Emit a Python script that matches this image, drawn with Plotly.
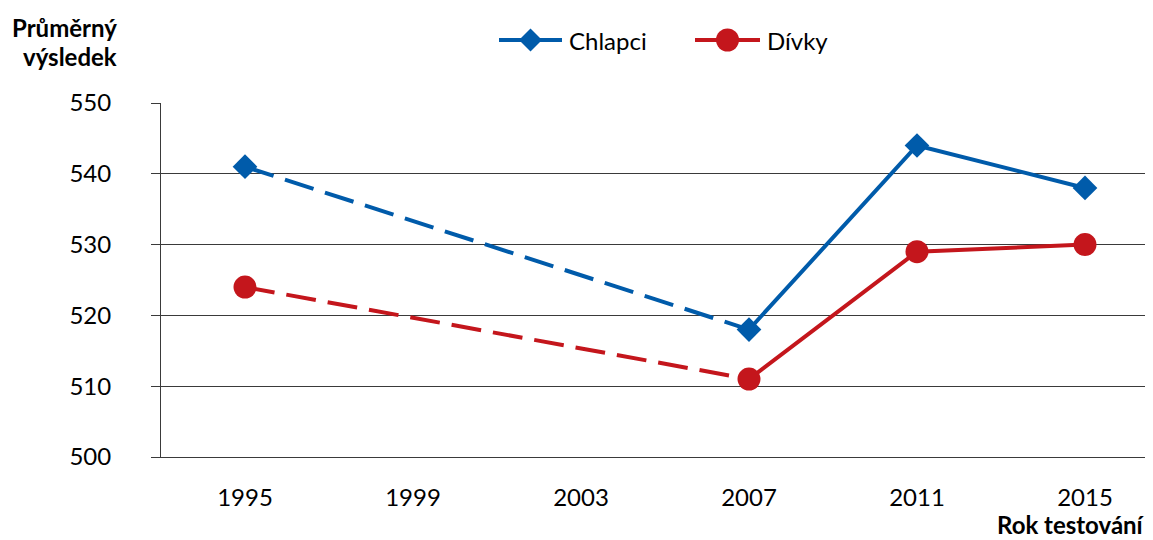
import plotly.graph_objects as go

years = ["1995", "1999", "2003", "2007", "2011", "2015"]
chlapci = [541, None, None, 518, 544, 538]
divky = [524, None, None, 511, 529, 530]
y_ticks = [500, 510, 520, 530, 540, 550]

BLUE = "#005BAA"
RED = "#C4161C"
FONT = "Lato"
GRID = "#3a3a3a"

xi = list(range(len(years)))

fig = go.Figure()

def add_series(vals, name, color, symbol, msize):
    known = [i for i, v in enumerate(vals) if v is not None]
    gap_end = next(i for i in known if i > 0 and vals[i - 1] is None)
    fig.add_trace(go.Scatter(
        x=xi[:gap_end + 1], y=vals[:gap_end + 1], mode="lines", connectgaps=True,
        line=dict(color=color, width=4, dash="30px,12px"), showlegend=False, hoverinfo="skip"))
    fig.add_trace(go.Scatter(
        x=xi, y=vals, mode="lines+markers", connectgaps=False, name=name, showlegend=False,
        line=dict(color=color, width=4),
        marker=dict(symbol=symbol, size=msize, color=color, line=dict(width=0))))

add_series(chlapci, "Chlapci", BLUE, "diamond", 19)
add_series(divky, "Dívky", RED, "circle", 23)

# screen-pixel -> paper helpers (plot area: x 161..1153, y 103..457 on screen)
PL, PT, PW, PH = 161, 103, 992, 354
def px(sx):
    return (sx - PL) / PW
def py(sy):
    return 1 + (PT - sy) / PH

# custom legend (long line segments with centred marker, like the reference)
shapes = []
annotations = []
LY = 40
legend_items = [("Chlapci", BLUE, "diamond", 499, 562), ("Dívky", RED, "circle", 695, 760)]
for name, color, sym, x0, x1 in legend_items:
    shapes.append(dict(type="line", xref="paper", yref="paper", x0=px(x0), x1=px(x1),
                       y0=py(LY), y1=py(LY), line=dict(color=color, width=4)))
    cx = (x0 + x1) / 2
    r = 11.5
    if sym == "diamond":
        path = (f"M {px(cx - r)} {py(LY)} L {px(cx)} {py(LY - r)} L {px(cx + r)} {py(LY)} "
                f"L {px(cx)} {py(LY + r)} Z")
        shapes.append(dict(type="path", xref="paper", yref="paper", path=path,
                           fillcolor=color, line=dict(width=0)))
    else:
        shapes.append(dict(type="circle", xref="paper", yref="paper", x0=px(cx - r), x1=px(cx + r),
                           y0=py(LY + r), y1=py(LY - r), fillcolor=color, line=dict(width=0)))
    annotations.append(dict(text=name, xref="paper", yref="paper", x=px(x1 + 5), y=py(LY),
                            xanchor="left", yanchor="middle", showarrow=False, font=dict(size=24)))

annotations += [
    dict(text="<b>Průměrný</b>", xref="paper", yref="paper", x=px(119), y=py(27),
         xanchor="right", yanchor="middle", showarrow=False, font=dict(size=24)),
    dict(text="<b>výsledek</b>", xref="paper", yref="paper", x=px(119), y=py(57),
         xanchor="right", yanchor="middle", showarrow=False, font=dict(size=24)),
    dict(text="<b>Rok testování</b>", xref="paper", yref="paper", x=px(1147), y=py(524),
         xanchor="right", yanchor="middle", showarrow=False, font=dict(size=24)),
]

# page body has an 8px margin; compensate so the plot lands where the reference has it
fig.update_layout(
    width=1145, height=532,
    margin=dict(l=PL - 8, r=0, t=PT - 8, b=83),
    paper_bgcolor="white", plot_bgcolor="white",
    font=dict(family=FONT, size=24, color="black"),
    showlegend=False,
    xaxis=dict(range=[-0.5, -0.5 + PW / 168], tickvals=xi, ticktext=years,
               showgrid=False, zeroline=False, showline=True, linecolor=GRID, linewidth=1,
               ticks="", ticklabelstandoff=19, tickfont=dict(size=24)),
    yaxis=dict(range=[500, 550], tickvals=y_ticks, showgrid=True, gridcolor=GRID, gridwidth=1,
               zeroline=False, showline=True, linecolor=GRID, linewidth=1,
               ticks="outside", ticklen=9, tickcolor=GRID, ticklabelstandoff=35,
               tickfont=dict(size=24)),
    shapes=shapes,
    annotations=annotations,
)

fig.write_html("out.html")
